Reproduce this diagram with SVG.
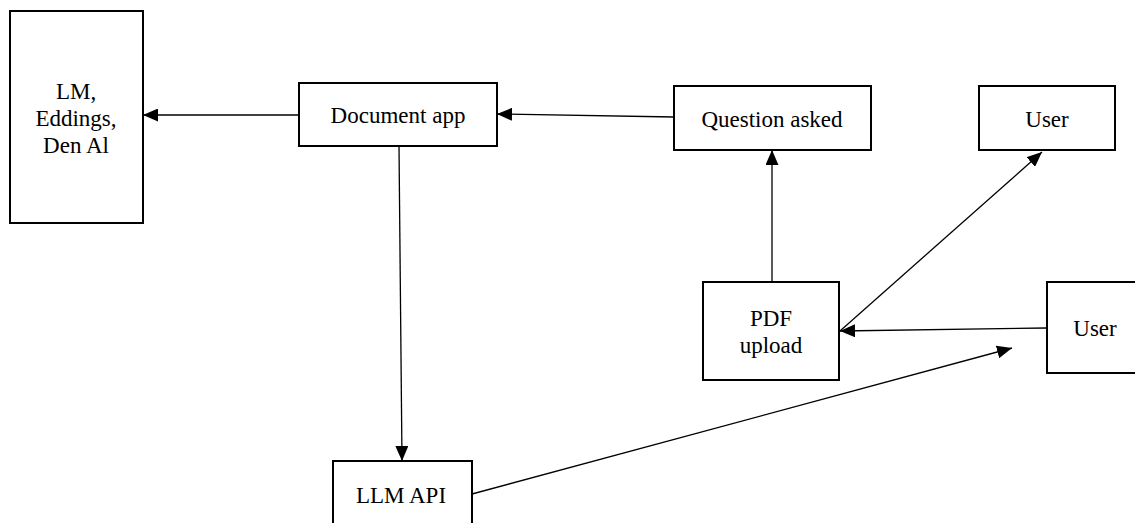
<svg xmlns="http://www.w3.org/2000/svg" width="1135" height="523" viewBox="0 0 1135 523">
<style>
.box{fill:#fff;stroke:#000;stroke-width:2}
.t{font-family:'Liberation Serif','Times New Roman',Tinos,'DejaVu Serif',serif;font-size:23px;fill:#000;text-anchor:middle}
.c{stroke:#000;stroke-width:1.3;fill:none;marker-end:url(#ah)}
</style>
<defs>
<marker id="ah" markerUnits="userSpaceOnUse" markerWidth="15" markerHeight="13" refX="15" refY="6.5" orient="auto">
<path d="M0,0 L15,6.5 L0,13 z" fill="#000"/>
</marker>
</defs>
<rect width="1135" height="523" fill="#fff"/>
<g id="lm">
<rect class="box" x="10" y="11" width="133" height="212"/>
<text class="t" x="76" y="99">LM,</text>
<text class="t" x="76" y="126">Eddings,</text>
<text class="t" x="76" y="153">Den Al</text>
</g>
<g id="docapp">
<rect class="box" x="299" y="83" width="198" height="63"/>
<text class="t" x="398" y="123">Document app</text>
</g>
<g id="question">
<rect class="box" x="674" y="86" width="197" height="64"/>
<text class="t" x="772" y="127">Question asked</text>
</g>
<g id="user1">
<rect class="box" x="979" y="86" width="136" height="64"/>
<text class="t" x="1047" y="127">User</text>
</g>
<g id="pdf">
<rect class="box" x="703" y="282" width="136" height="98"/>
<text class="t" x="771" y="326">PDF</text>
<text class="t" x="771" y="353">upload</text>
</g>
<g id="user2">
<rect class="box" x="1047" y="282" width="100" height="91"/>
<text class="t" x="1095" y="336">User</text>
</g>
<g id="llm">
<rect class="box" x="333" y="461" width="139" height="80"/>
<text class="t" x="401" y="503">LLM API</text>
</g>
<g id="connectors">
<line class="c" x1="299" y1="115" x2="143" y2="115"/>
<line class="c" x1="674" y1="117" x2="497" y2="114"/>
<line class="c" x1="772" y1="282" x2="772" y2="150"/>
<line class="c" x1="840" y1="331" x2="1042" y2="152"/>
<line class="c" x1="1047" y1="328" x2="840" y2="331"/>
<line class="c" x1="399" y1="146" x2="402" y2="461"/>
<line class="c" x1="472" y1="494" x2="1012" y2="348"/>
</g>
</svg>
